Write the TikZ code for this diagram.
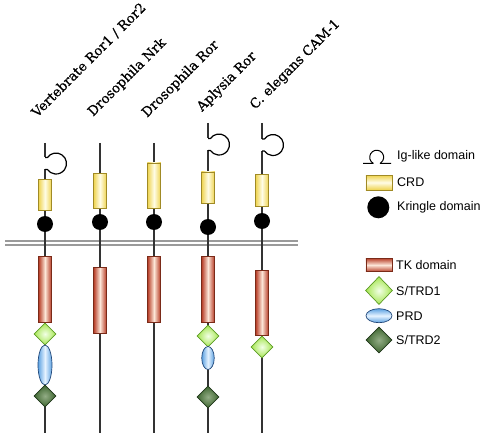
\documentclass[tikz,border=0pt]{standalone}
\usepackage{fontspec}
\setmainfont{DejaVu Serif}
\newfontfamily\titlefont[FakeBold=0.6]{DejaVu Serif}
\newfontfamily\legendfont{Liberation Sans}
\usetikzlibrary{shapes.geometric}
\definecolor{crdY}{HTML}{EED24A}
\definecolor{crdL}{HTML}{FFFCE6}
\definecolor{crdB}{HTML}{A08A25}
\definecolor{tkR}{HTML}{B8402A}
\definecolor{tkL}{HTML}{FCE6D8}
\definecolor{tkB}{HTML}{7A2A18}
\definecolor{sOneG}{HTML}{A5E650}
\definecolor{sOneL}{HTML}{F2FFE6}
\definecolor{sOneB}{HTML}{5C9A25}
\definecolor{prdC}{HTML}{5DA2E2}
\definecolor{prdL}{HTML}{E6F3FF}
\definecolor{prdD}{HTML}{22487A}
\definecolor{sTwoG}{HTML}{3E6630}
\definecolor{sTwoL}{HTML}{93AD86}
\definecolor{sTwoB}{HTML}{1E3518}
\definecolor{memb}{HTML}{9A9A9A}
\definecolor{bone}{HTML}{333333}
\begin{document}
\begin{tikzpicture}[x=1pt,y=-1pt,
  backbone/.style={draw=bone, line width=1.1},
  loopline/.style={draw=black, line width=1.2, line join=round},
  membline/.style={draw=memb, line width=1.4},
  crdbox/.style={rectangle, draw=crdB, line width=0.7, inner sep=0, minimum width=13.5,
    left color=crdY, right color=crdY, middle color=crdL},
  crdleg/.style={rectangle, draw=crdB, line width=0.7, inner sep=0,
    top color=crdY, bottom color=crdY, middle color=crdL},
  tkbox/.style={rectangle, draw=tkB, line width=0.7, inner sep=0, minimum width=12.5,
    left color=tkR, right color=tkR, middle color=tkL},
  tkleg/.style={rectangle, draw=tkB, line width=0.7, inner sep=0,
    top color=tkR, bottom color=tkR, middle color=tkL},
  kringle/.style={circle, fill=black, inner sep=0, minimum size=16},
  strdone/.style={diamond, draw=sOneB, line width=0.7, inner sep=0, minimum width=22, minimum height=22,
    inner color=sOneL, outer color=sOneG},
  strdtwo/.style={diamond, draw=sTwoB, line width=0.7, inner sep=0, minimum width=22, minimum height=22,
    inner color=sTwoL, outer color=sTwoG},
  prdbox/.style={ellipse, draw=prdD, line width=0.7, inner sep=0,
    left color=prdC, right color=prdC, middle color=prdL},
  prdleg/.style={ellipse, draw=prdD, line width=0.7, inner sep=0,
    top color=prdC, bottom color=prdC, middle color=prdL},
  title/.style={anchor=base west, rotate=45, inner sep=0, font=\titlefont\fontsize{13.3}{16}\selectfont},
  legtext/.style={anchor=west, inner sep=0, font=\legendfont\fontsize{12.5}{15}\selectfont},
]
\useasboundingbox (0,0) rectangle (490,441);

% membrane
\coordinate (mLa) at (5,241);  \coordinate (mRa) at (298,241);
\coordinate (mLb) at (5,245);  \coordinate (mRb) at (298,245);
\draw[membline] (mLa) -- (mRa);
\draw[membline] (mLb) -- (mRb);

% backbones
\coordinate (t1) at (45,143);  \coordinate (b1) at (45,433);
\coordinate (t2) at (100,143); \coordinate (b2) at (100,433);
\coordinate (t3) at (154,143); \coordinate (b3) at (154,433);
\coordinate (t4) at (208,123); \coordinate (b4) at (208,433);
\coordinate (t5) at (262,123); \coordinate (b5) at (262,433);
% loop gaps (Ig-like domains)
\coordinate (ga1) at (45,157.5);  \coordinate (gb1) at (45,169.5);
\coordinate (ga4) at (208,138.5); \coordinate (gb4) at (208,150.5);
\coordinate (ga5) at (262,139);   \coordinate (gb5) at (262,151);

\draw[backbone] (t1) -- (ga1);
\draw[backbone] (gb1) -- (b1);
\draw[backbone] (t2) -- (b2);
\draw[backbone] (t3) -- (b3);
\draw[backbone] (t4) -- (ga4);
\draw[backbone] (gb4) -- (b4);
\draw[backbone] (t5) -- (ga5);
\draw[backbone] (gb5) -- (b5);

% Ig-like loops
\draw[loopline] (ga1) -- ++(2.4,0) arc[start angle=215, end angle=505, radius=10.5] -- (gb1);
\draw[loopline] (ga4) -- ++(2.4,0) arc[start angle=215, end angle=505, radius=10.5] -- (gb4);
\draw[loopline] (ga5) -- ++(2.4,0) arc[start angle=215, end angle=505, radius=10.5] -- (gb5);

% column 1: Vertebrate Ror1 / Ror2
\node[crdbox, minimum height=31] (crd1) at (45,194.5) {};
\node[kringle] (kr1) at (45,224) {};
\node[tkbox, minimum height=66] (tk1) at (45,289) {};
\node[strdone] (sa1) at (45,334) {};
\node[prdbox, minimum width=14, minimum height=40] (prd1) at (45,365) {};
\node[strdtwo] (sb1) at (45,396) {};

% column 2: Drosophila Nrk
\node[crdbox, minimum height=35] (crd2) at (100,190.5) {};
\node[kringle] (kr2) at (100,222) {};
\node[tkbox, minimum height=66] (tk2) at (100,300) {};

% column 3: Drosophila Ror
\node[crdbox, minimum height=45] (crd3) at (154,185.5) {};
\node[kringle] (kr3) at (154,222) {};
\node[tkbox, minimum height=66] (tk3) at (154,289) {};

% column 4: Aplysia Ror
\node[crdbox, minimum height=31] (crd4) at (208,187.5) {};
\node[kringle] (kr4) at (208,227) {};
\node[tkbox, minimum height=66] (tk4) at (208,289) {};
\node[strdone] (sa4) at (208,336) {};
\node[prdbox, minimum width=12.5, minimum height=23] (prd4) at (208,358) {};
\node[strdtwo] (sb4) at (208,397) {};

% column 5: C. elegans CAM-1
\node[crdbox, minimum height=32] (crd5) at (262,190) {};
\node[kringle] (kr5) at (262,221) {};
\node[tkbox, minimum height=65] (tk5) at (262,302.5) {};
\node[strdone] (sa5) at (262,347) {};

% titles
\node[title] (n1) at (37,118) {Vertebrate Ror1 / Ror2};
\node[title] (n2) at (93,117) {Drosophila Nrk};
\node[title] (n3) at (147,118) {Drosophila Ror};
\node[title] (n4) at (202,112) {Aplysia Ror};
\node[title] (n5) at (255,110) {C. elegans CAM-1};

% legend
\draw[loopline, line width=1.0] (363,163.3) -- (373.2,163.3) arc[start angle=120, end angle=420, radius=7] -- (391,163.3);
\node[legtext] (lig) at (397,156.7) {Ig-like domain};
\node[crdleg, minimum width=26.7, minimum height=15] (lcrd) at (379.3,182.5) {};
\node[legtext] (lcrdt) at (397,182.3) {CRD};
\node[kringle, minimum size=22] (lkr) at (378.3,207.3) {};
\node[legtext] (lkrt) at (397,207.3) {Kringle domain};
\node[tkleg, minimum width=26.7, minimum height=13.4] (ltk) at (379.3,265) {};
\node[legtext] (ltkt) at (396,265) {TK domain};
\node[strdone, minimum width=27, minimum height=28] (lsa) at (379,290.5) {};
\node[legtext] (lsat) at (396,290.7) {S/TRD1};
\node[prdleg, minimum width=26, minimum height=14] (lprd) at (379,315.7) {};
\node[legtext] (lprdt) at (396,315.7) {PRD};
\node[strdtwo, minimum width=26, minimum height=26] (lsb) at (379,340) {};
\node[legtext] (lsbt) at (396,340) {S/TRD2};
\end{tikzpicture}
\end{document}
